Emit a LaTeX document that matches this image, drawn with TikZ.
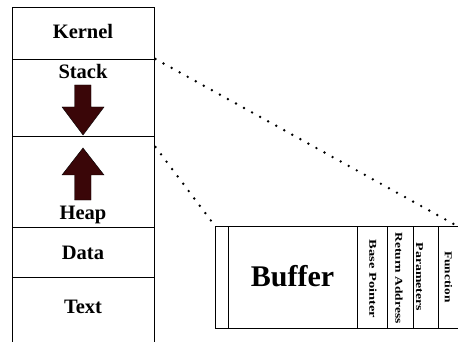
\documentclass[tikz,border=0pt]{standalone}
\usepackage{fontspec}
\setmainfont{Liberation Serif}
\usepackage{graphicx}
\definecolor{arrowc}{RGB}{58,6,8}
\begin{document}
\begin{tikzpicture}[x=1pt,y=-1pt,
  cell/.style={draw=black, line width=0.9pt, inner sep=0pt, anchor=north west},
  lbl/.style={font=\fontsize{20.5}{22}\selectfont\bfseries, anchor=base, inner sep=0pt},
  rot/.style={font=\fontsize{10.5}{12}\selectfont\bfseries, rotate=-90, inner sep=0pt},
  growarrow/.style={fill=arrowc, draw=black, line width=0.4pt},
  dots/.style={line width=2.7pt, line cap=round, dash pattern=on 0pt off 9.2pt}]
\useasboundingbox (0,0) rectangle (458,342);
% left column
\node[cell, minimum width=142pt, minimum height=52pt] (kernel) at (12.3,7) {};
\node[cell, minimum width=142pt, minimum height=77pt] (stack) at (12.3,59) {};
\node[cell, minimum width=142pt, minimum height=91pt] (heap) at (12.3,136) {};
\node[cell, minimum width=142pt, minimum height=50pt] (data) at (12.3,227) {};
\node[cell, minimum width=142pt, minimum height=80pt] (text) at (12.3,277) {};
\node[lbl] (kernelT) at (83,39) {Kernel};
\node[lbl] (stackT) at (83,79) {Stack};
\node[lbl] (heapT) at (83,219.5) {Heap};
\node[lbl] (dataT) at (83,259.5) {Data};
\node[lbl] (textT) at (83,313.5) {Text};
% arrows
\draw[growarrow] (74.5,85) -- (91,85) -- (91,107) -- (104,107) -- (83,135) -- (62,107) -- (74.5,107) -- cycle;
\draw[growarrow] (74.5,200) -- (91,200) -- (91,175) -- (104,175) -- (83,148) -- (62,175) -- (74.5,175) -- cycle;
% right box
\node[cell, minimum width=13pt, minimum height=102pt] (r0) at (215,226) {};
\node[cell, minimum width=129pt, minimum height=102pt] (buf) at (228,226) {};
\node[cell, minimum width=30pt, minimum height=102pt] (bp) at (357,226) {};
\node[cell, minimum width=26pt, minimum height=102pt] (ra) at (387,226) {};
\node[cell, minimum width=25pt, minimum height=102pt] (pa) at (413,226) {};
\node[cell, minimum width=40pt, minimum height=102pt] (fn) at (438,226) {};
\node[font=\fontsize{30}{32}\selectfont\bfseries, anchor=base, inner sep=0pt] (bufT) at (292.5,286) {Buffer};
\node[rot] (bpT) at (373,279) {\scalebox{1.38}[1]{Base Pointer}};
\node[rot] (raT) at (399,278) {\scalebox{1.28}[1]{Return Address}};
\node[rot] (paT) at (419.5,277) {\scalebox{1.32}[1]{Parameters}};
\node[rot] (fnT) at (448.5,277) {\scalebox{1.27}[1]{Function}};
% dotted connectors
\coordinate (s1) at (155.5,59);
\coordinate (e1) at (454.5,224.5);
\coordinate (s2) at (155.5,147);
\coordinate (e2) at (212,222);
\draw[dots] (s1) -- (e1);
\draw[dots] (s2) -- (e2);
\end{tikzpicture}
\end{document}
